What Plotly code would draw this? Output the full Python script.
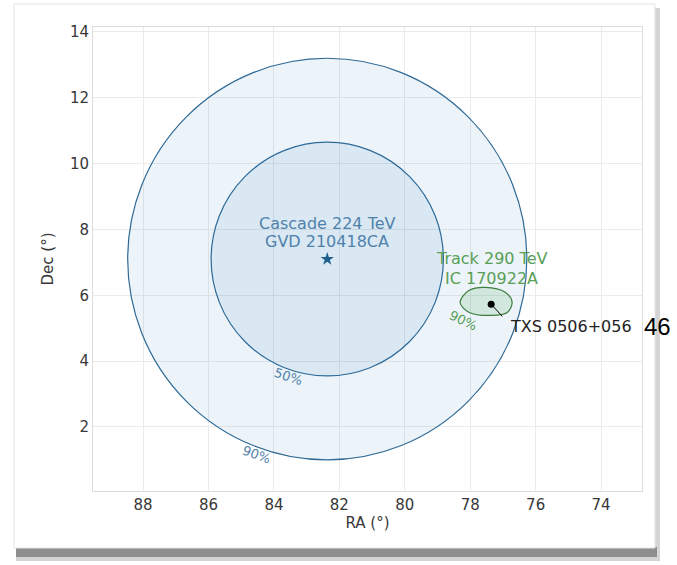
import plotly.graph_objs as go

# cascade event GVD 210418CA
cascade_ra = 82.37
cascade_dec = 7.1
cascade_levels = ['50%', '90%']
cascade_radius = [3.55, 6.1]

# track event IC 170922A, 90% contour
track_ra = [78.31, 78.03, 77.54, 76.93, 76.72, 76.87, 77.33, 78.03, 78.31]
track_dec = [5.79, 6.15, 6.24, 6.09, 5.79, 5.48, 5.39, 5.48, 5.79]

# blazar
txs_ra = 77.36
txs_dec = 5.73

xticks = [88, 86, 84, 82, 80, 78, 76, 74]
yticks = [2, 4, 6, 8, 10, 12, 14]

W, H = 677, 565
L, R, T, B = 93, 35, 27, 74
pw, ph = W - L - R, H - T - B

def px(x):  # pixel -> paper x
    return (x - L) / pw

def py(y):  # pixel -> paper y
    return (H - B - y) / ph

blue_line = '#2f6a96'
blue_text = '#4f82ab'
green_line = '#3d7d3d'
green_text = '#58a058'

data = [
    go.Scatter(x=track_ra, y=track_dec, mode='lines', fill='toself',
               fillcolor='rgba(60,160,60,0.14)',
               line=dict(color=green_line, width=1.2, shape='spline', smoothing=1.0),
               hoverinfo='skip'),
    go.Scatter(x=[cascade_ra], y=[cascade_dec], mode='markers',
               marker=dict(symbol='star', size=10, color='#1f5f8f')),
    go.Scatter(x=[txs_ra], y=[txs_dec], mode='markers',
               marker=dict(symbol='circle', size=7, color='black')),
]

shapes = [
    # card shadow + card
    dict(type='rect', xref='paper', yref='paper', layer='below',
         x0=px(16), x1=px(660), y0=py(8), y1=py(561),
         fillcolor='#d4d4d4', line=dict(width=0)),
    dict(type='rect', xref='paper', yref='paper', layer='below',
         x0=px(16), x1=px(657), y0=py(547), y1=py(557),
         fillcolor='#8e8e8e', line=dict(width=0)),
    dict(type='rect', xref='paper', yref='paper', layer='below',
         x0=px(14), x1=px(655), y0=py(4), y1=py(548),
         fillcolor='white', line=dict(color='#e4e4e4', width=1)),
    # TXS pointer
    dict(type='line', xref='x', yref='y', x0=txs_ra, y0=txs_dec, x1=77.02, y1=5.36,
         line=dict(color='black', width=1)),
]
for r in cascade_radius:
    shapes.append(dict(type='circle', xref='x', yref='y', layer='between',
                       x0=cascade_ra - r, x1=cascade_ra + r,
                       y0=cascade_dec - r, y1=cascade_dec + r,
                       fillcolor='rgba(31,119,180,0.085)',
                       line=dict(color=blue_line, width=1.2)))

annotations = [
    dict(x=cascade_ra, y=8.18, text='Cascade 224 TeV', showarrow=False,
         font=dict(size=16, color=blue_text)),
    dict(x=cascade_ra, y=7.64, text='GVD 210418CA', showarrow=False,
         font=dict(size=16, color=blue_text)),
    dict(x=77.36, y=7.12, text='Track 290 TeV', showarrow=False,
         font=dict(size=16, color=green_text)),
    dict(x=77.36, y=6.52, text='IC 170922A', showarrow=False,
         font=dict(size=16, color=green_text)),
    dict(x=76.85, y=5.06, text='TXS 0506+056', showarrow=False, xanchor='left',
         font=dict(size=16, color='#222')),
    dict(x=83.56, y=3.54, text='50%', showarrow=False, textangle=18,
         font=dict(size=13, color=blue_text)),
    dict(x=84.54, y=1.15, text='90%', showarrow=False, textangle=20,
         font=dict(size=13, color=blue_text)),
    dict(x=78.21, y=5.24, text='90%', showarrow=False, textangle=25,
         font=dict(size=13, color=green_text)),
    dict(xref='paper', yref='paper', x=px(642), y=py(326), xanchor='left', yanchor='middle',
         text='46', showarrow=False,
         font=dict(family='Liberation Sans, Arial, sans-serif', size=24, color='black')),
]

layout = go.Layout(
    width=W, height=H,
    margin=dict(l=L, r=R, t=T, b=B),
    paper_bgcolor='white', plot_bgcolor='white',
    font=dict(family='DejaVu Sans, sans-serif', size=15, color='#383838'),
    showlegend=False,
    xaxis=dict(range=[89.53, 72.75], tickvals=xticks, title=dict(text='RA (°)', standoff=4, font=dict(size=15)),
               showgrid=True, gridcolor='#ebebeb', zeroline=False,
               showline=True, linecolor='#dcdcdc', mirror=True, ticks=''),
    yaxis=dict(range=[0.055, 14.15], tickvals=yticks, title=dict(text='Dec (°)', standoff=12, font=dict(size=15)),
               showgrid=True, gridcolor='#ebebeb', zeroline=False,
               showline=True, linecolor='#dcdcdc', mirror=True, ticks=''),
    shapes=shapes, annotations=annotations,
)

fig = go.Figure(data=data, layout=layout)
fig.write_html('out.html', config={'displayModeBar': False},
               post_script="document.body.style.margin='0';")
